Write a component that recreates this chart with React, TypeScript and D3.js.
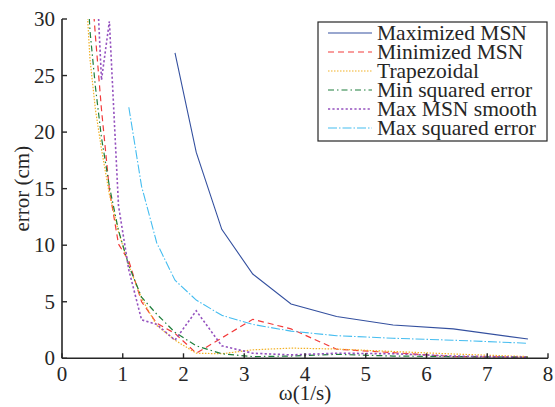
import React from "react";
import * as d3 from "d3";

const omega = [0.39, 0.46, 0.55, 0.65, 0.78, 0.93, 1.10, 1.31, 1.56, 1.86, 2.21, 2.63, 3.14, 3.77, 4.52, 5.45, 6.44, 7.67];

const maximizedMSN = [null, null, null, null, null, null, null, null, null, 27.0, 18.2, 11.4, 7.45, 4.8, 3.7, 2.95, 2.6, 1.7];
const minimizedMSN = [40, 35, 28.5, 22, 14.9, 10.1, 8.6, 5.0, 3.1, 2.2, 0.45, 1.8, 3.45, 2.6, 0.8, 0.5, 0.15, 0.1];
const trapezoidal = [33, 26.5, 22, 18.5, 14.5, 11.2, 8.2, 5.3, 2.9, 1.6, 0.45, 0.4, 0.75, 0.9, 0.82, 0.6, 0.38, 0.15];
const minSquaredError = [36, 29, 24, 19.5, 15.2, 11.3, 8.2, 5.4, 3.9, 2.3, 1.1, 0.4, 0.15, 0.2, 0.35, 0.2, 0.15, 0.1];
const maxMSNSmooth = [42, 40, 36, 24.6, 29.8, 13.5, 7.8, 3.4, 3.0, 1.6, 4.2, 1.1, 0.45, 0.3, 0.45, 0.4, 0.2, 0.1];
const maxSquaredError = [null, null, null, null, null, null, 22.2, 15.2, 10.2, 6.9, 5.15, 3.8, 3.0, 2.4, 2.0, 1.77, 1.6, 1.33];

const xTicks = [0, 1, 2, 3, 4, 5, 6, 7, 8];
const yTicks = [0, 5, 10, 15, 20, 25, 30];

const seriesNames = ["Maximized MSN", "Minimized MSN", "Trapezoidal", "Min squared error", "Max MSN smooth", "Max squared error"];
const seriesData = [maximizedMSN, minimizedMSN, trapezoidal, minSquaredError, maxMSNSmooth, maxSquaredError];
const seriesColors = ["#34509f", "#f23a3a", "#f2b124", "#1f7f3c", "#9552bf", "#45bdf0"];
const seriesDash = ["", "6,4", "1.5,1.5", "6,3,1.5,3", "2.2,2.2", "9,2,1.5,2"];
const seriesWidth = [1.1, 1.2, 1.2, 1.2, 1.6, 1.1];

export default function App() {
  const W = 555, H = 407;
  const x = d3.scaleLinear().domain([0, 8]).range([62, 548]);
  const y = d3.scaleLinear().domain([0, 30]).range([358.3, 19]);
  const fontStyle = { fontFamily: "Liberation Serif, Times New Roman, serif" };

  const line = d3
    .line<[number, number | null]>()
    .defined((d) => d[1] !== null)
    .x((d) => x(d[0]))
    .y((d) => y(d[1] as number));

  const [x0, x1] = x.range();
  const [y0, y1] = y.range();

  const legX = 318, legY = 22, legW = 229, legH = 119;
  const rowY = (i: number) => 33 + i * 19;

  return (
    <svg width={W} height={H} style={{ position: "absolute", left: 0, top: 0, background: "#fff" }}>
      <defs>
        <clipPath id="plot">
          <rect x={x0} y={y1} width={x1 - x0} height={y0 - y1} />
        </clipPath>
      </defs>
      <rect width={W} height={H} fill="#fff" />
      <g clipPath="url(#plot)">
        {seriesData.map((s, i) => (
          <path
            key={i}
            d={line(omega.map((o, j) => [o, s[j]] as [number, number | null])) || ""}
            fill="none"
            stroke={seriesColors[i]}
            strokeWidth={seriesWidth[i]}
            strokeDasharray={seriesDash[i] || undefined}
          />
        ))}
      </g>
      <line x1={x0} x2={x1} y1={y0} y2={y0} stroke="#262626" strokeWidth={1.6} />
      <line x1={x0} x2={x0} y1={y0} y2={y1} stroke="#262626" strokeWidth={1.6} />
      <g style={fontStyle} fontSize={21} fill="#262626">
        {xTicks.map((t) => (
          <g key={"x" + t}>
            <line x1={x(t)} x2={x(t)} y1={y0} y2={y0 - 5} stroke="#262626" strokeWidth={1.4} />
            <text x={x(t)} y={381} textAnchor="middle">
              {t}
            </text>
          </g>
        ))}
        {yTicks.map((t) => (
          <g key={"y" + t}>
            <line x1={x0} x2={x0 + 5} y1={y(t)} y2={y(t)} stroke="#262626" strokeWidth={1.4} />
            <text x={55} y={y(t) + 7} textAnchor="end">
              {t}
            </text>
          </g>
        ))}
        <text x={(x0 + x1) / 2} y={400} textAnchor="middle">
          ω(1/s)
        </text>
        <text transform={`translate(29, ${(y0 + y1) / 2}) rotate(-90)`} textAnchor="middle">
          error (cm)
        </text>
        <rect x={legX} y={legY} width={legW} height={legH} fill="#fff" stroke="#262626" strokeWidth={1.2} />
        {seriesNames.map((n, i) => (
          <g key={n}>
            <line
              x1={328}
              x2={372}
              y1={rowY(i)}
              y2={rowY(i)}
              stroke={seriesColors[i]}
              strokeWidth={seriesWidth[i]}
              strokeDasharray={seriesDash[i] || undefined}
            />
            <text x={377} y={rowY(i) + 7} fontSize={21.5}>
              {n}
            </text>
          </g>
        ))}
      </g>
    </svg>
  );
}
